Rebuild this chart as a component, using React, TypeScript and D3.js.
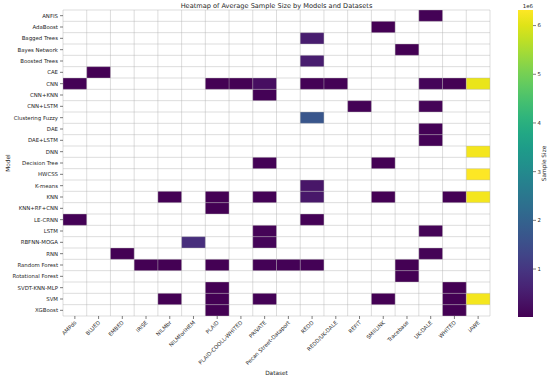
import React from "react";
import * as d3 from "d3";

// rows and columns of the heatmap
const models = [
  "ANFIS", "AdaBoost", "Bagged Trees", "Bayes Network", "Boosted Trees", "CAE", "CNN",
  "CNN+KNN", "CNN+LSTM", "Clustering Fuzzy", "DAE", "DAE+LSTM", "DNN", "Decision Tree",
  "HWCSS", "K-means", "KNN", "KNN+RF+CNN", "LE-CRNN", "LSTM", "RBFNN-MOGA", "RNN",
  "Random Forest", "Rotational Forest", "SVDT-KNN-MLP", "SVM", "XGBoost",
];
const datasets = [
  "AMPds", "BLUED", "EMBED", "IRISE", "NILMbr", "NILMforIHEM", "PLAID",
  "PLAID-COOLL-WHITED", "PRIVATE", "Pecan Street-Dataport", "REDD", "REDD/UK-DALE",
  "REFIT", "SMIILINK", "Tracebase", "UK-DALE", "WHITED", "iAWE",
];

// average sample size per (model, dataset), only the filled cells
const cells: [string, string, number][] = [
  ["ANFIS", "UK-DALE", 40000],
  ["AdaBoost", "SMIILINK", 30000],
  ["Bagged Trees", "REDD", 520000],
  ["Bayes Network", "Tracebase", 20000],
  ["Boosted Trees", "REDD", 520000],
  ["CAE", "BLUED", 30000],
  ["CNN", "AMPds", 40000],
  ["CNN", "PLAID", 30000],
  ["CNN", "PLAID-COOLL-WHITED", 30000],
  ["CNN", "PRIVATE", 250000],
  ["CNN", "REDD", 60000],
  ["CNN", "REDD/UK-DALE", 50000],
  ["CNN", "UK-DALE", 90000],
  ["CNN", "WHITED", 20000],
  ["CNN", "iAWE", 6100000],
  ["CNN+KNN", "PRIVATE", 60000],
  ["CNN+LSTM", "REFIT", 40000],
  ["CNN+LSTM", "UK-DALE", 70000],
  ["Clustering Fuzzy", "REDD", 1700000],
  ["DAE", "UK-DALE", 60000],
  ["DAE+LSTM", "UK-DALE", 60000],
  ["DNN", "iAWE", 6200000],
  ["Decision Tree", "PRIVATE", 60000],
  ["Decision Tree", "SMIILINK", 30000],
  ["HWCSS", "iAWE", 6320000],
  ["K-means", "REDD", 380000],
  ["KNN", "NILMbr", 30000],
  ["KNN", "PLAID", 30000],
  ["KNN", "PRIVATE", 60000],
  ["KNN", "REDD", 420000],
  ["KNN", "SMIILINK", 30000],
  ["KNN", "WHITED", 20000],
  ["KNN", "iAWE", 6200000],
  ["KNN+RF+CNN", "PLAID", 30000],
  ["LE-CRNN", "AMPds", 40000],
  ["LE-CRNN", "REDD", 60000],
  ["LSTM", "PRIVATE", 70000],
  ["LSTM", "UK-DALE", 80000],
  ["RBFNN-MOGA", "NILMforIHEM", 850000],
  ["RBFNN-MOGA", "PRIVATE", 90000],
  ["RNN", "EMBED", 30000],
  ["RNN", "UK-DALE", 80000],
  ["Random Forest", "IRISE", 30000],
  ["Random Forest", "NILMbr", 30000],
  ["Random Forest", "PLAID", 30000],
  ["Random Forest", "PRIVATE", 60000],
  ["Random Forest", "Pecan Street-Dataport", 50000],
  ["Random Forest", "REDD", 60000],
  ["Random Forest", "Tracebase", 20000],
  ["Rotational Forest", "Tracebase", 15000],
  ["SVDT-KNN-MLP", "PLAID", 30000],
  ["SVDT-KNN-MLP", "WHITED", 20000],
  ["SVM", "NILMbr", 30000],
  ["SVM", "PLAID", 30000],
  ["SVM", "PRIVATE", 60000],
  ["SVM", "SMIILINK", 30000],
  ["SVM", "WHITED", 20000],
  ["SVM", "iAWE", 6200000],
  ["XGBoost", "PLAID", 30000],
  ["XGBoost", "WHITED", 20000],
];
const colorTicks = [1e6, 2e6, 3e6, 4e6, 5e6, 6e6];

const W = 550;
const H = 379;
const font = "DejaVu Sans, sans-serif";
const textColor = "#262626";

export default function App() {
  const left = 63, right = 490, top = 10, bottom = 316;
  const x = d3.scaleBand<string>().domain(datasets).range([left, right]);
  const y = d3.scaleBand<string>().domain(models).range([top, bottom]);
  const extent = d3.extent(cells, (d) => d[2]) as [number, number];
  const color = d3.scaleSequential(d3.interpolateViridis).domain(extent);

  // colorbar
  const cbX = 518, cbW = 15, cbTop = 10, cbBottom = 317;
  const cbScale = d3.scaleLinear().domain(extent).range([cbBottom, cbTop]);
  const stops = d3.range(0, 1.0001, 0.05);

  const xGrid = d3.range(datasets.length + 1).map((i) => left + i * x.step());
  const yGrid = d3.range(models.length + 1).map((i) => top + i * y.step());

  return (
    <svg width={W} height={H} style={{ position: "absolute", left: 0, top: 0, background: "#fff" }} fontFamily={font}>
      <defs>
        <linearGradient id="cb" x1="0" y1="1" x2="0" y2="0">
          {stops.map((t) => (
            <stop key={t} offset={t} stopColor={d3.interpolateViridis(t)} />
          ))}
        </linearGradient>
      </defs>
      <text x={(left + right) / 2} y={8} textAnchor="middle" fontSize={6.6} fill={textColor}>
        Heatmap of Average Sample Size by Models and Datasets
      </text>

      {cells.map(([m, ds, v]) => (
        <rect key={m + ds} x={x(ds)} y={y(m)} width={x.bandwidth()} height={y.bandwidth()} fill={color(v)} />
      ))}

      <g stroke="#b0b0b0" strokeOpacity={0.55} strokeWidth={0.8}>
        {xGrid.map((gx, i) => (
          <line key={"x" + i} x1={gx} x2={gx} y1={top} y2={bottom} />
        ))}
        {yGrid.map((gy, i) => (
          <line key={"y" + i} x1={left} x2={right} y1={gy} y2={gy} />
        ))}
      </g>

      {/* y axis */}
      {models.map((m) => {
        const cy = (y(m) as number) + y.bandwidth() / 2;
        return (
          <g key={m}>
            <line x1={left - 3} x2={left} y1={cy} y2={cy} stroke={textColor} strokeWidth={0.6} />
            <text x={left - 5} y={cy} dy="0.35em" textAnchor="end" fontSize={5.4} fill={textColor}>
              {m}
            </text>
          </g>
        );
      })}
      <text transform={`translate(10,${(top + bottom) / 2}) rotate(-90)`} textAnchor="middle" fontSize={5.8} fill={textColor}>
        Model
      </text>

      {/* x axis */}
      {datasets.map((ds) => {
        const cx = (x(ds) as number) + x.bandwidth() / 2;
        return (
          <g key={ds}>
            <line x1={cx} x2={cx} y1={bottom} y2={bottom + 3} stroke={textColor} strokeWidth={0.6} />
            <text transform={`translate(${cx + 2},${bottom + 7}) rotate(-45)`} textAnchor="end" fontSize={5.4} fill={textColor}>
              {ds}
            </text>
          </g>
        );
      })}
      <text x={(left + right) / 2} y={375} textAnchor="middle" fontSize={5.8} fill={textColor}>
        Dataset
      </text>

      {/* colorbar */}
      <rect x={cbX} y={cbTop} width={cbW} height={cbBottom - cbTop} fill="url(#cb)" />
      {colorTicks.map((t) => (
        <g key={t}>
          <line x1={cbX + cbW} x2={cbX + cbW + 3} y1={cbScale(t)} y2={cbScale(t)} stroke={textColor} strokeWidth={0.6} />
          <text x={cbX + cbW + 4.5} y={cbScale(t)} dy="0.35em" fontSize={5.4} fill={textColor}>
            {t / 1e6}
          </text>
        </g>
      ))}
      <text x={cbX + cbW} y={7.5} textAnchor="end" fontSize={5.4} fill={textColor}>
        1e6
      </text>
      <text transform={`translate(546,${(cbTop + cbBottom) / 2}) rotate(-90)`} textAnchor="middle" fontSize={5.8} fill={textColor}>
        Sample Size
      </text>
    </svg>
  );
}
